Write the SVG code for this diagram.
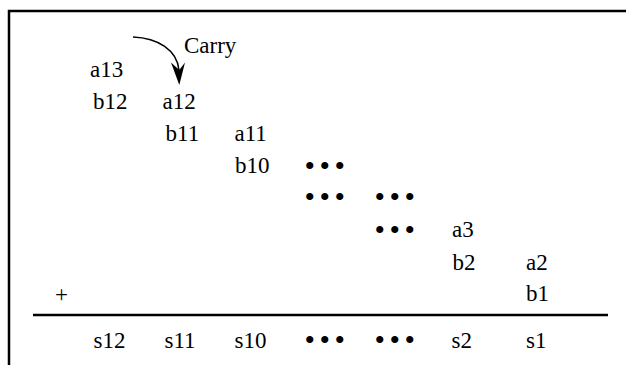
<svg xmlns="http://www.w3.org/2000/svg" width="626" height="365" viewBox="0 0 626 365">
<style>
text{font-family:"Liberation Serif","Times New Roman",serif;font-size:23px;fill:#000}
.dots{font-size:30px}
.rule{stroke:#000;stroke-width:2.5;fill:none}
</style>
<rect width="626" height="365" fill="#fff"/>
<g id="frame">
<path class="rule" d="M9,365 V11 H626"/>
</g>
<g id="sum-line"><line class="rule" x1="33" y1="315" x2="608" y2="315"/></g>
<g id="connectors">
<path d="M133,37 C158,38 177,50 179,70" fill="none" stroke="#000" stroke-width="1.5"/>
<polygon points="179.3,85 171,62.5 179.3,70 185,62.5" fill="#000"/>
</g>
<g id="carry"><text x="184" y="53">Carry</text></g>
<g id="a13"><text x="90" y="77">a13</text></g>
<g id="b12"><text x="93" y="109">b12</text></g>
<g id="a12"><text x="162.5" y="109">a12</text></g>
<g id="b11"><text x="165.5" y="141">b11</text></g>
<g id="a11"><text x="234.5" y="141">a11</text></g>
<g id="b10"><text x="235" y="173">b10</text></g>
<g id="dots1"><text class="dots" x="304.5 319.5 334.5" y="176">•••</text></g>
<g id="dots2"><text class="dots" x="304.5 319.5 334.5" y="207">•••</text></g>
<g id="dots3"><text class="dots" x="374.5 389.5 404.5" y="207">•••</text></g>
<g id="dots4"><text class="dots" x="374.5 389.5 404.5" y="240">•••</text></g>
<g id="a3"><text x="452" y="237">a3</text></g>
<g id="b2"><text x="452.5" y="270">b2</text></g>
<g id="a2"><text x="526" y="270">a2</text></g>
<g id="plus"><text x="55" y="302">+</text></g>
<g id="b1"><text x="526" y="301">b1</text></g>
<g id="s12"><text x="93.5" y="348">s12</text></g>
<g id="s11"><text x="164.5" y="348">s11</text></g>
<g id="s10"><text x="234.5" y="348">s10</text></g>
<g id="dots5"><text class="dots" x="304.5 319.5 334.5" y="350">•••</text></g>
<g id="dots6"><text class="dots" x="374.5 389.5 404.5" y="350">•••</text></g>
<g id="s2"><text x="451.5" y="348">s2</text></g>
<g id="s1"><text x="526" y="348">s1</text></g>
</svg>
